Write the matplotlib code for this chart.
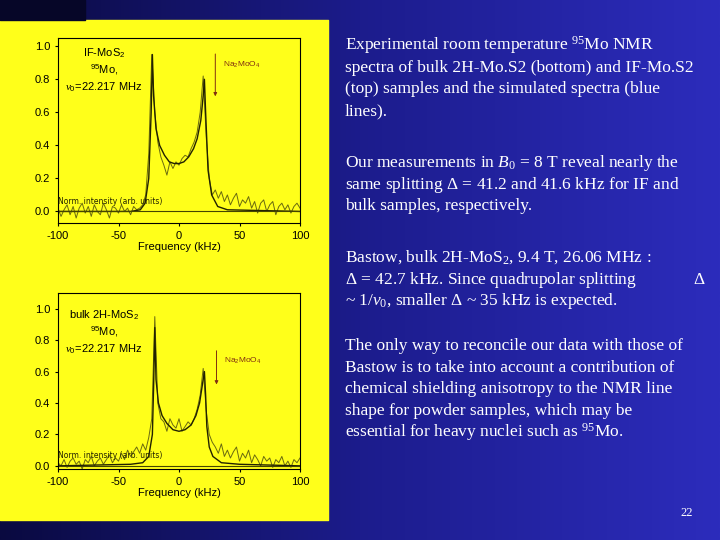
import numpy as np
import matplotlib
matplotlib.use("Agg")
import matplotlib.pyplot as plt

plt.rcParams["mathtext.fontset"] = "custom"
plt.rcParams["mathtext.rm"] = "Liberation Serif"
plt.rcParams["mathtext.it"] = "Liberation Serif:italic"
plt.rcParams["mathtext.sf"] = "Liberation Sans"
plt.rcParams["mathtext.fallback"] = "stix"
plt.rcParams["axes.unicode_minus"] = False

# experimental spectra sampled every 2.5 kHz from -100 to 100
freq = np.arange(-100, 100.1, 2.5)
if_exp = [0.02, -0.03, 0.01, 0.04, -0.02, 0.03, -0.04, 0.02, 0.05, -0.01, 0.03, -0.03, 0.04, 0.0, -0.02,
          0.05, 0.01, -0.04, 0.03, 0.02, -0.01, 0.04, 0.0, 0.02, -0.02, 0.03, 0.01, 0.02, 0.04,
          0.1, 0.35, 0.95, 0.6, 0.42, 0.33, 0.28, 0.22, 0.3, 0.26, 0.3, 0.28, 0.32, 0.34, 0.33, 0.38,
          0.42, 0.48, 0.6, 0.82, 0.45, 0.2, 0.1,
          0.13, 0.08, 0.12, 0.06, 0.1, 0.04, 0.08, 0.11, 0.03, 0.07, 0.05, 0.09, 0.02, 0.06, -0.01,
          0.05, 0.07, 0.0, 0.04, 0.06, -0.02, 0.03, 0.05, 0.01, 0.04, -0.01, 0.03, 0.05, 0.02]
bulk_exp = [0.02, 0.0, 0.04, -0.01, 0.03, 0.05, 0.01, 0.03, -0.02, 0.04, 0.02, 0.06, 0.0, 0.03, 0.05,
            0.01, 0.04, 0.07, 0.02, 0.05, 0.03, 0.08, 0.04, 0.1, 0.06, 0.09, 0.12, 0.08, 0.14,
            0.1, 0.18, 0.3, 0.95, 0.4, 0.3, 0.28, 0.22, 0.3, 0.26, 0.24, 0.3, 0.22, 0.25, 0.28, 0.26,
            0.3, 0.36, 0.45, 0.62, 0.35, 0.2, 0.15,
            0.12, 0.08, 0.14, 0.06, 0.1, 0.05, 0.09, 0.12, 0.03, 0.08, 0.05, 0.1, 0.02, 0.07, 0.04,
            0.0, 0.06, 0.03, 0.05, -0.01, 0.04, 0.02, 0.06, 0.0, 0.03, -0.01, 0.04, 0.02, 0.05]

# simulated spectra
if_sim_f = [-100, -40, -32, -28, -25, -23, -22, -21, -19, -16, -12, -8, -4, 0, 4, 8, 12, 15, 18, 20, 21, 22, 24, 27, 32, 40, 100]
if_sim_y = [0, 0, 0.01, 0.05, 0.2, 0.6, 0.95, 0.7, 0.5, 0.4, 0.34, 0.3, 0.29, 0.29, 0.3, 0.33, 0.38, 0.44, 0.55, 0.7, 0.8, 0.6, 0.25, 0.1, 0.03, 0.01, 0]
bulk_sim_f = [-100, -40, -30, -25, -22, -21, -20, -19, -17, -14, -10, -5, 0, 5, 10, 14, 17, 19, 21, 22, 23, 25, 28, 35, 50, 100]
bulk_sim_y = [0, 0.01, 0.02, 0.06, 0.2, 0.5, 0.88, 0.55, 0.4, 0.32, 0.27, 0.23, 0.22, 0.23, 0.26, 0.32, 0.4, 0.5, 0.6, 0.45, 0.25, 0.12, 0.06, 0.02, 0.01, 0]

W, H = 720, 540
fig = plt.figure(figsize=(7.2, 5.4), dpi=100)

# background gradient
bg = fig.add_axes([0, 0, 1, 1])
grad = np.linspace(0, 1, 256)[None, :]
cmap = matplotlib.colors.LinearSegmentedColormap.from_list("bg", ["#0a0a40", "#1c1c8c", "#2c2cbc"])
bg.imshow(grad, aspect="auto", cmap=cmap, extent=[0, W, H, 0])
bg.fill_between([0, 328], [20, 20], [520, 520], color="#ffff1a")
bg.fill_between([0, 85], [0, 0], [20, 20], color="#060628")
bg.set_xlim(0, W)
bg.set_ylim(H, 0)
bg.axis("off")


def ax_px(x0, y0, x1, y1):
    return fig.add_axes([x0 / W, 1 - y1 / H, (x1 - x0) / W, (y1 - y0) / H])


def panel(ax, fe, fs, ys, ylim, label, arrow):
    ax.set_facecolor("#ffff1a")
    ax.plot(freq, fe, color="#6a6a10", lw=0.7)
    ax.plot(fs, ys, color="#222200", lw=1.0)
    ax.axhline(0, color="#444400", lw=0.8)
    ax.set_xlim(-100, 100)
    ax.set_ylim(*ylim)
    ax.set_xticks([-100, -50, 0, 50, 100])
    ax.set_yticks([0.0, 0.2, 0.4, 0.6, 0.8, 1.0])
    ax.set_yticklabels(["0.0", "0.2", "0.4", "0.6", "0.8", "1.0"])
    ax.tick_params(labelsize=8, length=2)
    for t in ax.get_xticklabels() + ax.get_yticklabels():
        t.set_family("Liberation Sans")
    ax.set_xlabel("Frequency (kHz)", fontsize=8, labelpad=1, family="Liberation Sans")
    ax.text(-62, 1.0, label, fontsize=8, va="top", ha="center", linespacing=1.3, family="Liberation Sans")
    ax.annotate("", xy=(arrow[0], arrow[2]), xytext=(arrow[0], arrow[1]),
                arrowprops=dict(arrowstyle="-|>", color="#803010", lw=0.7, mutation_scale=5))
    ax.text(arrow[0] + 6, arrow[1] - 0.05, "Na$_\\mathsf{2}$MoO$_\\mathsf{4}$", fontsize=6,
            color="#803010", va="top", family="Liberation Sans")
    ax.text(-100, 0.035, "Norm. intensity (arb. units)", fontsize=5.5, color="#222200",
            ha="left", va="bottom", family="DejaVu Sans", clip_on=False)
    for s in ax.spines.values():
        s.set_linewidth(0.8)


a1 = ax_px(58, 38, 300, 223)
panel(a1, if_exp, if_sim_f, if_sim_y, (-0.07, 1.05),
      "IF-MoS$_\\mathsf{2}$\n$^\\mathsf{95}$Mo,\n$\\nu_\\mathsf{0}$=22.217 MHz", (30, 0.97, 0.68))
a2 = ax_px(58, 293, 300, 469)
panel(a2, bulk_exp, bulk_sim_f, bulk_sim_y, (-0.02, 1.1),
      "bulk 2H-MoS$_\\mathsf{2}$\n$^\\mathsf{95}$Mo,\n$\\nu_\\mathsf{0}$=22.217 MHz", (31, 0.75, 0.5))

tk = dict(color="white", fontsize=12.5, family="Liberation Serif", va="baseline", ha="left")


def para(y, lines, step=21.7):
    for i, s in enumerate(lines):
        fig.text(345 / W, 1 - (y + i * step) / H, s, **tk)


para(50, ["Experimental room temperature $^{95}$Mo NMR",
          "spectra of bulk 2H-Mo.S2 (bottom) and IF-Mo.S2",
          "(top) samples and the simulated spectra (blue",
          "lines)."])
para(167, ["Our measurements in $B_0$ = 8 T reveal nearly the",
           "same splitting $\\Delta$ = 41.2 and 41.6 kHz for IF and",
           "bulk samples, respectively."])
para(262, ["Bastow, bulk 2H-MoS$_2$, 9.4 T, 26.06 MHz :",
           "$\\Delta$ = 42.7 kHz. Since quadrupolar splitting",
           "~ 1/$\\nu_0$, smaller $\\Delta$ ~ 35 kHz is expected."])
fig.text(693 / W, 1 - 284 / H, "$\\Delta$", **tk)
para(350, ["The only way to reconcile our data with those of",
           "Bastow is to take into account a contribution of",
           "chemical shielding anisotropy to the NMR line",
           "shape for powder samples, which may be",
           "essential for heavy nuclei such as $^{95}$Mo."])
fig.text(680 / W, 1 - 516 / H, "22", color="white", fontsize=9, family="Liberation Serif", va="baseline")

fig.savefig("out.png", dpi=100)
